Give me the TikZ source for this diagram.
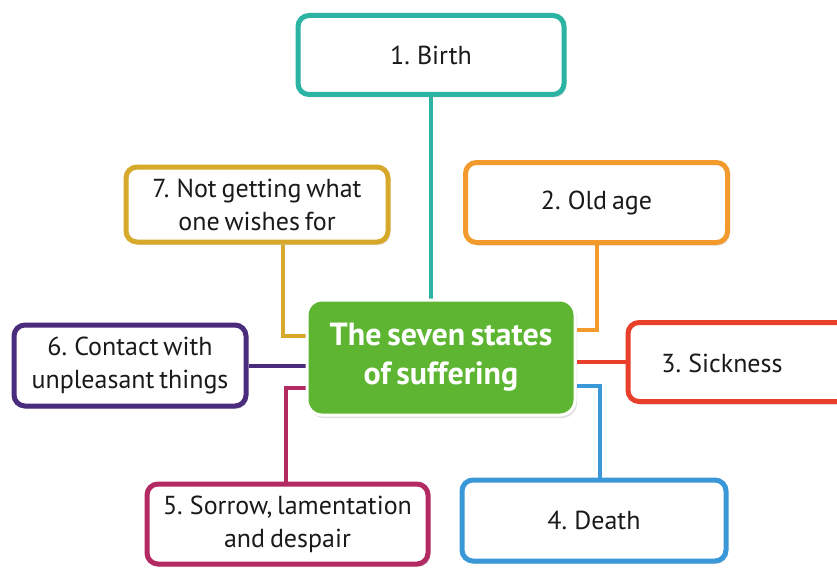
\documentclass[tikz,border=0pt]{standalone}
\usepackage{fontspec}
\setmainfont{PT Sans}[WordSpace=0.7]
\usetikzlibrary{backgrounds,shadows}
\definecolor{cteal}{HTML}{2BB3A3}
\definecolor{corange}{HTML}{F39A2C}
\definecolor{cred}{HTML}{E8402A}
\definecolor{cblue}{HTML}{3A98D8}
\definecolor{cmag}{HTML}{B32A62}
\definecolor{cpurple}{HTML}{4B2C7C}
\definecolor{cgold}{HTML}{D6A92C}
\definecolor{cgreen}{HTML}{5DB532}
\definecolor{ctext}{HTML}{1A1A1A}
\tikzset{
  every shadow/.style={fill=black!60, shadow xshift=2pt, shadow yshift=-3pt},
  boxfont/.style={font=\fontsize{26}{33}\selectfont, text=ctext},
  statebox/.style={draw=#1, line width=5pt, fill=white, rounded corners=11pt,
    align=center, boxfont, drop shadow={opacity=0.18}},
  link/.style={draw=#1, line width=4pt},
}
\begin{document}
\begin{tikzpicture}[x=1pt,y=-1pt]
\useasboundingbox (0,0) rectangle (837,567);
\clip (0,0) rectangle (837,567);

\node[statebox=cteal, minimum width=266pt, minimum height=79pt] (b1) at (431,55) {1. Birth};
\node[statebox=corange, minimum width=262pt, minimum height=80pt] (b2) at (596.5,202.5) {2. Old age};
\node[statebox=cred, minimum width=240pt, minimum height=79pt] (b3) at (748,362) {};
\node[boxfont] (b3t) at (722,363) {3. Sickness};
\node[statebox=cblue, minimum width=264pt, minimum height=81pt] (b4) at (594,520.5) {4. Death};
\node[statebox=cmag, minimum width=281pt, minimum height=80pt] (b5) at (287.5,524) {5. Sorrow, lamentation\\and despair};
\node[statebox=cpurple, minimum width=232pt, minimum height=81pt] (b6) at (130,365.5) {6. Contact with\\unpleasant things};
\node[statebox=cgold, minimum width=262pt, minimum height=75pt] (b7) at (257,204.5) {7. Not getting what\\one wishes for};

\node[draw=white, line width=3pt, fill=cgreen, rounded corners=15pt,
  minimum width=268pt, minimum height=115pt, align=center, text=white,
  font=\bfseries\fontsize{32}{39}\selectfont, drop shadow={opacity=0.2}] (c) at (441,357.5)
  {The seven states\\of suffering};

\begin{scope}[on background layer]
\fill[white] (0,0) rectangle (837,567);
\draw[link=cteal] (b1.south) -- (b1.south |- c.north);
\draw[link=corange] (b2.south) |- ([yshift=27.5pt]c.east);
\draw[link=cred] (b3.west) -- (b3.west -| c.east);
\draw[link=cblue] ([xshift=6pt]b4.north) |- ([yshift=-28pt]c.east);
\draw[link=cmag] ([xshift=-1.5pt]b5.north) |- ([yshift=-30pt]c.west);
\draw[link=cpurple] (b6.east) -- (b6.east -| c.west);
\draw[link=cgold] ([xshift=26pt]b7.south) |- ([yshift=22pt]c.west);
\end{scope}
\end{tikzpicture}
\end{document}
